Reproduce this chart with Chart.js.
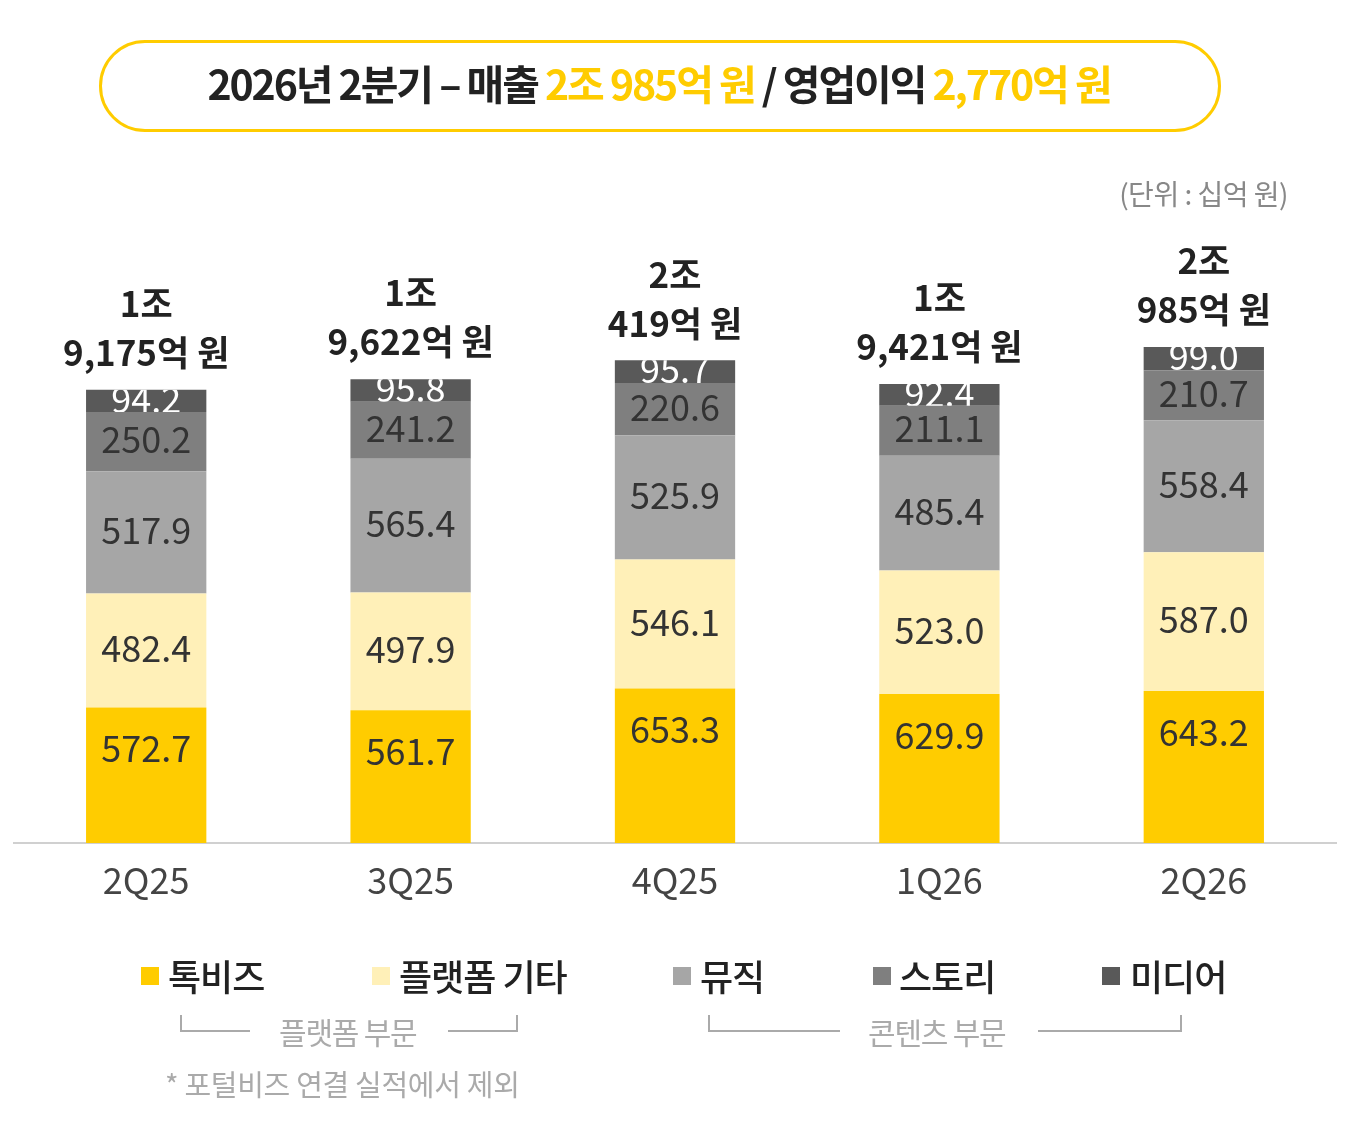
<!DOCTYPE html>
<html>
<head>
<meta charset="utf-8">
<script src="https://cdn.jsdelivr.net/npm/chart.js@4"></script>
<style>
  html, body { margin:0; padding:0; background:#fff; }
  body { width:1350px; height:1125px; position:relative; overflow:hidden; font-family:"Noto Sans CJK KR","Noto Sans",sans-serif; }
  #c { position:absolute; left:0; top:0; }
  .abs { position:absolute; white-space:nowrap; }
  #titleBox { left:99px; top:40px; width:1116px; height:86px; border:3px solid #FFCC00; border-radius:48px; }
  #title { left:-16px; width:1350px; top:54px; text-align:center; font-size:41px; font-weight:700; letter-spacing:-2.1px; color:#222; line-height:56px; }
  #title .y { color:#FFCC00; }
  #unit { right:62px; top:173px; font-size:28px; color:#888; letter-spacing:-0.5px; line-height:40px; }
  .lg { top:950px; font-size:36px; color:#222; letter-spacing:-1px; line-height:50px; font-weight:500; }
  .sq { position:absolute; width:18px; height:18px; top:967px; }
  .grp { top:1011px; font-size:30px; color:#aaa; letter-spacing:-1.2px; line-height:40px; }
  .br { position:absolute; border-color:#aaa; border-style:solid; }
  #note { left:165px; top:1063px; font-size:29px; color:#aaa; letter-spacing:-0.3px; line-height:40px; }
</style>
</head>
<body>
<canvas id="c" width="1350" height="1125"></canvas>
<div id="titleBox" class="abs"></div>
<div id="title" class="abs">2026년 2분기 – 매출 <span class="y">2조 985억 원</span> / 영업이익 <span class="y">2,770억 원</span></div>
<div id="unit" class="abs">(단위 : 십억 원)</div>

<div class="sq" style="left:141px;background:#FFCC00"></div>
<div class="abs lg" style="left:168px">톡비즈</div>
<div class="sq" style="left:372px;background:#FFF0B8"></div>
<div class="abs lg" style="left:399px">플랫폼 기타</div>
<div class="sq" style="left:673px;background:#A6A6A6"></div>
<div class="abs lg" style="left:700px">뮤직</div>
<div class="sq" style="left:873px;background:#7F7F7F"></div>
<div class="abs lg" style="left:899px">스토리</div>
<div class="sq" style="left:1102px;background:#595959"></div>
<div class="abs lg" style="left:1130px">미디어</div>

<div class="br" style="left:180px;top:1015px;width:68px;height:15px;border-width:0 0 2px 2px"></div>
<div class="abs grp" style="left:279px">플랫폼 부문</div>
<div class="br" style="left:448px;top:1015px;width:68px;height:15px;border-width:0 2px 2px 0"></div>
<div class="br" style="left:708px;top:1015px;width:130px;height:15px;border-width:0 0 2px 2px"></div>
<div class="abs grp" style="left:868px">콘텐츠 부문</div>
<div class="br" style="left:1038px;top:1015px;width:142px;height:15px;border-width:0 2px 2px 0"></div>
<div id="note" class="abs">* 포털비즈 연결 실적에서 제외</div>

<script>
const categories = ["2Q25", "3Q25", "4Q25", "1Q26", "2Q26"];
const talkBiz    = [572.7, 561.7, 653.3, 629.9, 643.2];
const platformEtc= [482.4, 497.9, 546.1, 523.0, 587.0];
const music      = [517.9, 565.4, 525.9, 485.4, 558.4];
const story      = [250.2, 241.2, 220.6, 211.1, 210.7];
const media      = [94.2, 95.8, 95.7, 92.4, 99.0];
const totalLine1 = ["1조", "1조", "2조", "1조", "2조"];
const totalLine2 = ["9,175억 원", "9,622억 원", "419억 원", "9,421억 원", "985억 원"];
const seriesNames = ["톡비즈", "플랫폼 기타", "뮤직", "스토리", "미디어"];

const FONT = '"Noto Sans CJK KR","Noto Sans",sans-serif';
const colors = ["#FFCC00", "#FFF0B8", "#A6A6A6", "#7F7F7F", "#595959"];
const labelColors = ["#333", "#333", "#333", "#333", "#fff"];

const labelPlugin = {
  id: 'labels',
  afterDatasetsDraw(chart) {
    const ctx = chart.ctx;
    ctx.save();
    chart.data.datasets.forEach((ds, di) => {
      const meta = chart.getDatasetMeta(di);
      meta.data.forEach((bar, i) => {
        const top = Math.min(bar.y, bar.base), bot = Math.max(bar.y, bar.base);
        const w = bar.width;
        ctx.save();
        ctx.beginPath();
        ctx.rect(bar.x - w/2, top, w, bot - top);
        ctx.clip();
        ctx.fillStyle = labelColors[di];
        ctx.font = '36px ' + FONT;
        ctx.textAlign = 'center';
        ctx.textBaseline = 'middle';
        const y = di === 0 ? top + 41 : (top + bot) / 2 - 2;
        ctx.fillText(ds.data[i].toFixed(1), bar.x, y);
        ctx.restore();
      });
    });
    const last = chart.getDatasetMeta(chart.data.datasets.length - 1);
    last.data.forEach((bar, i) => {
      ctx.fillStyle = '#222';
      ctx.font = 'bold 35px ' + FONT;
      ctx.textAlign = 'center';
      ctx.textBaseline = 'middle';
      ctx.fillText(totalLine1[i], bar.x, bar.y - 86);
      ctx.fillText(totalLine2[i], bar.x, bar.y - 37);
    });
    ctx.restore();
  }
};

const series = [talkBiz, platformEtc, music, story, media];
new Chart(document.getElementById('c'), {
  type: 'bar',
  data: {
    labels: categories,
    datasets: series.map((d, i) => ({
      label: seriesNames[i],
      data: d,
      backgroundColor: colors[i],
      borderWidth: 0,
      barPercentage: 0.455,
      categoryPercentage: 1
    }))
  },
  options: {
    responsive: false,
    animation: false,
    devicePixelRatio: 1,
    layout: { padding: { left: 14, right: 14, top: 252, bottom: 182 } },
    plugins: { legend: { display: false }, tooltip: { enabled: false } },
    scales: {
      x: {
        stacked: true,
        grid: { display: false, drawTicks: false },
        border: { display: true, color: '#D0D0D0', width: 2 },
        ticks: { color: '#444', font: { family: FONT, size: 36 }, padding: 16 },
        afterFit(scale) { scale.height = 100; }
      },
      y: {
        stacked: true,
        display: false,
        min: 0,
        max: 2500
      }
    }
  },
  plugins: [labelPlugin]
});
</script>
</body>
</html>
